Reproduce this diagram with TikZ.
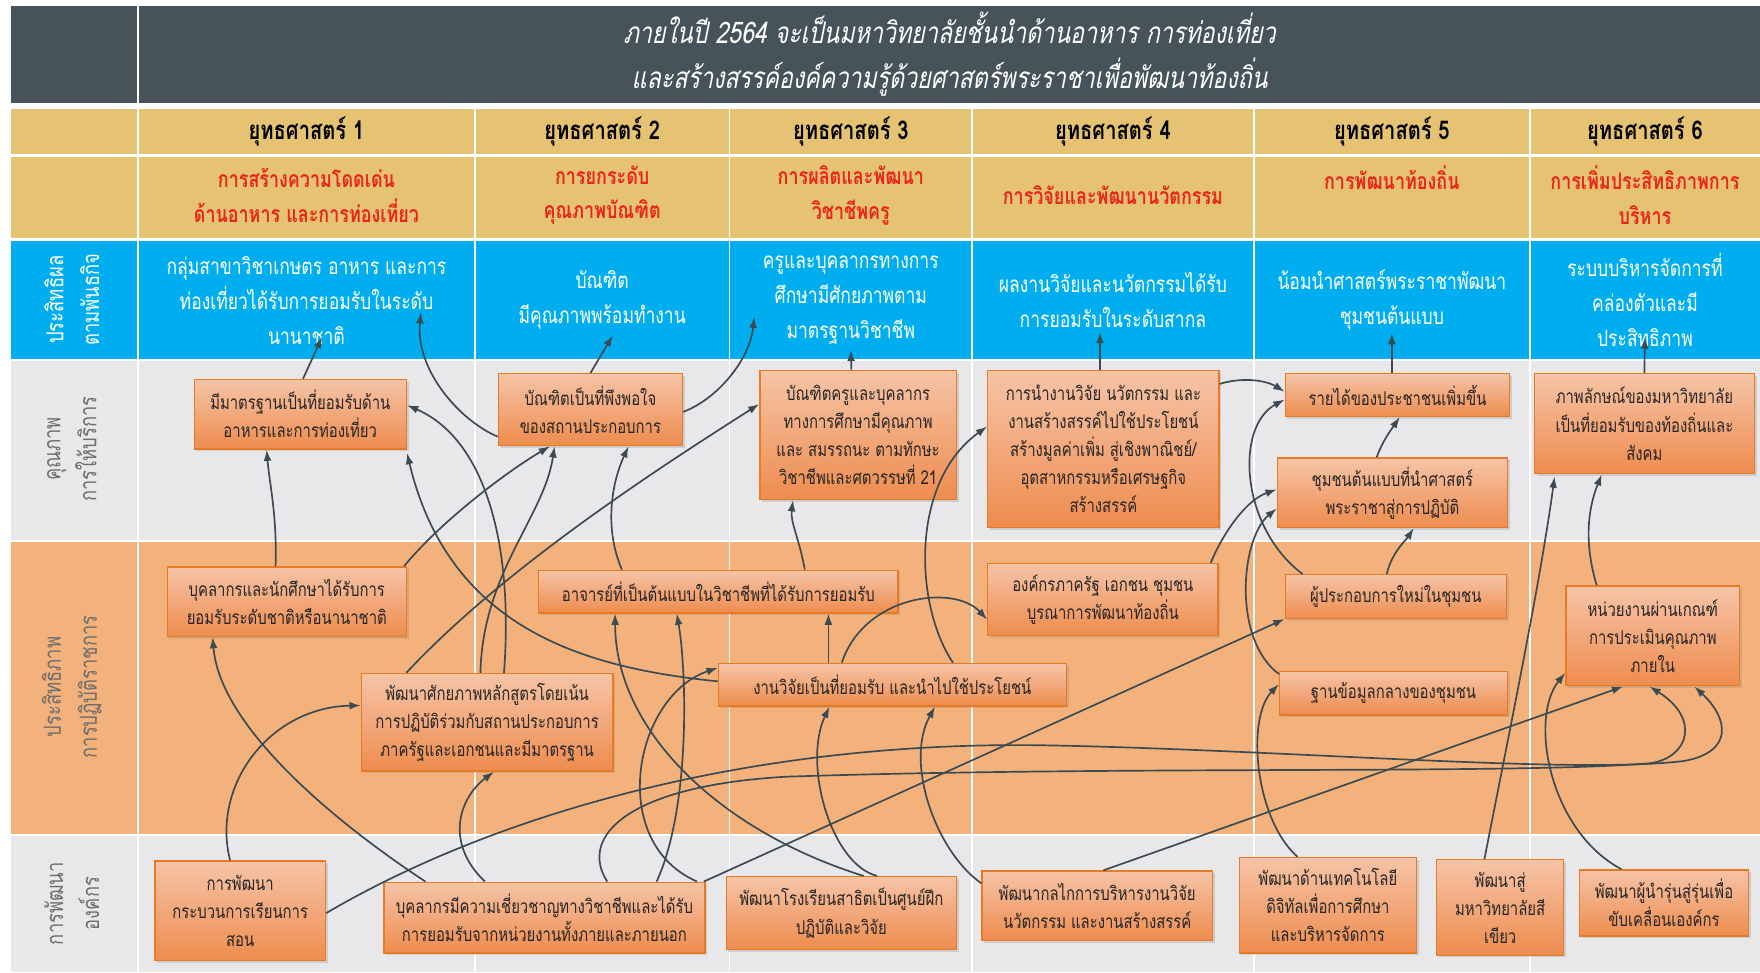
\documentclass[tikz,border=0pt]{standalone}
\usepackage{fontspec}
\usepackage{xcolor}
\usepackage{tikz}
\usetikzlibrary{arrows.meta, shadows}
\setmainfont[Script=Thai, FakeStretch=0.78]{Loma}
\newfontfamily\titlefont[Script=Thai, FakeStretch=0.78, FakeSlant=0.2]{Loma}
\definecolor{headbg}{HTML}{46535A}
\definecolor{yellowbg}{HTML}{E5C372}
\definecolor{bluebg}{HTML}{00AEEF}
\definecolor{graybg}{HTML}{E8E8EA}
\definecolor{orangebg}{HTML}{F3B27B}
\definecolor{namered}{HTML}{E8261C}
\definecolor{labelgray}{HTML}{6E6E6E}
\definecolor{boxtop}{HTML}{F6C4A7}
\definecolor{boxbot}{HTML}{EE8C4E}
\definecolor{boxline}{HTML}{E97A24}
\definecolor{linkc}{HTML}{3C4A52}

\begin{document}
\begin{tikzpicture}[x=1pt, y=-1pt,
  titleline/.style={text=white, inner sep=0pt, font=\titlefont\fontsize{26.5}{30}\selectfont},
  rowlabel/.style={rotate=90, align=center, text=labelgray, font=\fontsize{21}{32}\selectfont},
  stratnum/.style={font=\bfseries\fontsize{23}{24}\selectfont},
  stratname/.style={text=namered, align=center, font=\bfseries\fontsize{20.5}{31}\selectfont},
  goal/.style={text=white, align=center, minimum height=100pt, font=\fontsize{20}{31}\selectfont},
  link/.style={draw=linkc, line width=1.5pt, -{Latex[length=10pt,width=7pt]}}]
\useasboundingbox (0,0) rectangle (1568,866);
\fill[white] (0,0) rectangle (1568,866);
\fill[headbg] (10,5) rectangle (1568,92);
\fill[yellowbg] (10,97) rectangle (1568,137);
\fill[yellowbg] (10,140) rectangle (1568,212);
\fill[bluebg] (10,215) rectangle (1568,320);
\fill[graybg] (10,322) rectangle (1568,481);
\fill[orangebg] (10,483) rectangle (1568,743);
\fill[graybg] (10,745) rectangle (1568,866);
\draw[white, line width=2.5pt] (123,5) -- (123,866);
\foreach \x in {423,650,866,1117,1363}
  \draw[white, line width=1.5pt] (\x,97) -- (\x,866);

\node[titleline] (T1) at (846,25) {ภายในปี 2564 จะเป็นมหาวิทยาลัยชั้นนำด้านอาหาร การท่องเที่ยว};
\node[titleline] (T2) at (846,69) {และสร้างสรรค์องค์ความรู้ด้วยศาสตร์พระราชาเพื่อพัฒนาท้องถิ่น};

\node[stratnum] (S1) at (273,117) {ยุทธศาสตร์ 1};
\node[stratnum] (S2) at (536.5,117) {ยุทธศาสตร์ 2};
\node[stratnum] (S3) at (758,117) {ยุทธศาสตร์ 3};
\node[stratnum] (S4) at (991.5,117) {ยุทธศาสตร์ 4};
\node[stratnum] (S5) at (1240,117) {ยุทธศาสตร์ 5};
\node[stratnum] (S6) at (1465.5,117) {ยุทธศาสตร์ 6};

\node[stratname] (N1) at (273,174) {การสร้างความโดดเด่น\\ด้านอาหาร และการท่องเที่ยว};
\node[stratname] (N2) at (536.5,174) {การยกระดับ\\คุณภาพบัณฑิต};
\node[stratname] (N3) at (758,174) {การผลิตและพัฒนา\\วิชาชีพครู};
\node[stratname] (N4) at (991.5,174) {การวิจัยและพัฒนานวัตกรรม};
\node[stratname] (N5) at (1240,158) {การพัฒนาท้องถิ่น};
\node[stratname] (N6) at (1465.5,174) {การเพิ่มประสิทธิภาพการ\\บริหาร};

\node[rowlabel, text=white] (R1) at (64,267) {ประสิทธิผล\\ตามพันธกิจ};
\node[rowlabel] (R2) at (64,400) {คุณภาพ\\การให้บริการ};
\node[rowlabel] (R3) at (64,612) {ประสิทธิภาพ\\การปฏิบัติราชการ};
\node[rowlabel] (R4) at (64,805) {การพัฒนา\\องค์กร};

\node[goal] (B1) at (273,267.5) {กลุ่มสาขาวิชาเกษตร อาหาร และการ\\ท่องเที่ยวได้รับการยอมรับในระดับ\\นานาชาติ};
\node[goal] (B2) at (536.5,267.5) {บัณฑิต\\มีคุณภาพพร้อมทำงาน};
\node[goal] (B3) at (758,267.5) {ครูและบุคลากรทางการ\\ศึกษามีศักยภาพตาม\\มาตรฐานวิชาชีพ};
\node[goal] (B4) at (991.5,267.5) {ผลงานวิจัยและนวัตกรรมได้รับ\\การยอมรับในระดับสากล};
\node[goal] (B5) at (1240,267.5) {น้อมนำศาสตร์พระราชาพัฒนา\\ชุมชนต้นแบบ};
\node[goal] (B6) at (1465.5,267.5) {ระบบบริหารจัดการที่\\คล่องตัวและมี\\ประสิทธิภาพ};

\begin{scope}[every node/.style={draw=boxline, line width=1.2pt, top color=boxtop, bottom color=boxbot,
    align=center, inner sep=2pt, text=black!85, font=\fontsize{17}{25}\selectfont,
    drop shadow={opacity=0.25, shadow xshift=2pt, shadow yshift=-2pt}}]
  \node[minimum width=189pt, minimum height=62pt] (Q1) at (267.5,369) {มีมาตรฐานเป็นที่ยอมรับด้าน\\อาหารและการท่องเที่ยว};
  \node[minimum width=164pt, minimum height=64pt] (Q2) at (526,365) {บัณฑิตเป็นที่พึงพอใจ\\ของสถานประกอบการ};
  \node[minimum width=175pt, minimum height=115pt] (Q3) at (764.5,387.5) {บัณฑิตครูและบุคลากร\\ทางการศึกษามีคุณภาพ\\และ สมรรถนะ ตามทักษะ\\วิชาชีพและศตวรรษที่ 21};
  \node[minimum width=206pt, minimum height=140pt] (Q4) at (983,400) {การนำงานวิจัย นวัตกรรม และ\\งานสร้างสรรค์ไปใช้ประโยชน์\\สร้างมูลค่าเพิ่ม สู่เชิงพาณิชย์/\\อุตสาหกรรมหรือเศรษฐกิจ\\สร้างสรรค์};
  \node[minimum width=200pt, minimum height=38pt] (Q5a) at (1245,352) {รายได้ของประชาชนเพิ่มขึ้น};
  \node[minimum width=205pt, minimum height=62pt] (Q5b) at (1240.5,439) {ชุมชนต้นแบบที่นำศาสตร์\\พระราชาสู่การปฏิบัติ};
  \node[minimum width=196pt, minimum height=89pt] (Q6) at (1465,377.5) {ภาพลักษณ์ของมหาวิทยาลัย\\เป็นที่ยอมรับของท้องถิ่นและ\\สังคม};

  \node[minimum width=213pt, minimum height=62pt] (P1) at (255.5,536) {บุคลากรและนักศึกษาได้รับการ\\ยอมรับระดับชาติหรือนานาชาติ};
  \node[minimum width=320pt, minimum height=38pt] (P2) at (640,527) {อาจารย์ที่เป็นต้นแบบในวิชาชีพที่ได้รับการยอมรับ};
  \node[minimum width=224pt, minimum height=87pt] (P3) at (434,643.5) {พัฒนาศักยภาพหลักสูตรโดยเน้น\\การปฏิบัติร่วมกับสถานประกอบการ\\ภาครัฐและเอกชนและมีมาตรฐาน};
  \node[minimum width=310pt, minimum height=38pt] (P4) at (795,610) {งานวิจัยเป็นที่ยอมรับ และนำไปใช้ประโยชน์};
  \node[minimum width=205pt, minimum height=64pt] (P5) at (982.5,534) {องค์กรภาครัฐ เอกชน ชุมชน\\บูรณาการพัฒนาท้องถิ่น};
  \node[minimum width=197pt, minimum height=39pt] (P6) at (1243.5,531.5) {ผู้ประกอบการใหม่ในชุมชน};
  \node[minimum width=203pt, minimum height=39pt] (P7) at (1241.5,617.5) {ฐานข้อมูลกลางของชุมชน};
  \node[minimum width=155pt, minimum height=89pt] (P8) at (1472.5,566.5) {หน่วยงานผ่านเกณฑ์\\การประเมินคุณภาพ\\ภายใน};

  \node[minimum width=152pt, minimum height=89pt] (O1) at (214,811.5) {การพัฒนา\\กระบวนการเรียนการ\\สอน};
  \node[minimum width=286pt, minimum height=63pt] (O2) at (485,817.5) {บุคลากรมีความเชี่ยวชาญทางวิชาชีพและได้รับ\\การยอมรับจากหน่วยงานทั้งภายและภายนอก};
  \node[minimum width=205pt, minimum height=65pt] (O3) at (749.5,813.5) {พัฒนาโรงเรียนสาธิตเป็นศูนย์ฝึก\\ปฏิบัติและวิจัย};
  \node[minimum width=205pt, minimum height=62pt] (O4) at (977.5,807) {พัฒนากลไกการบริหารงานวิจัย\\นวัตกรรม และงานสร้างสรรค์};
  \node[minimum width=158pt, minimum height=85pt] (O5) at (1183,806.5) {พัฒนาด้านเทคโนโลยี\\ดิจิทัลเพื่อการศึกษา\\และบริหารจัดการ};
  \node[minimum width=113pt, minimum height=85pt] (O6) at (1336.5,808.5) {พัฒนาสู่\\มหาวิทยาลัยสี\\เขียว};
  \node[minimum width=151pt, minimum height=59pt] (O7) at (1482.5,804.5) {พัฒนาผู้นำรุ่นสู่รุ่นเพื่อ\\ขับเคลื่อนเองค์กร};
\end{scope}

\draw[link] ([xshift=2.5pt]Q1.north) -- ([xshift=14pt,yshift=17.5pt]B1.south);
\draw[link] (Q2.north) -- ([xshift=9.5pt,yshift=19pt]B2.south);
\draw[link] ([xshift=-6pt]Q3.north) -- ([yshift=6pt]B3.south);
\draw[link] ([xshift=-3pt]Q4.north) -- ([xshift=-11.5pt,yshift=22pt]B4.south);
\draw[link] ([xshift=-5pt]Q5a.north) -- ([yshift=21pt]B5.south);
\draw[link] (Q6.north) -- ([yshift=17pt]B6.south);
\draw[link] ([yshift=-24pt]Q2.west) .. controls (410,375) and (370,330) .. ([xshift=102pt,yshift=39.5pt]B1.south);
\draw[link] ([yshift=-2pt]Q2.east) .. controls (640,355) and (668,320) .. ([xshift=-86pt,yshift=35.5pt]B3.south);

\draw[link] ([xshift=-10pt]P1.north) .. controls (247,460) and (240,430) .. ([xshift=-30pt]Q1.south);
\draw[link] ([xshift=104.5pt]P1.north) .. controls (395,462) and (455,418) .. ([xshift=-36pt]Q2.south);
\draw[link] ([xshift=-72pt]P3.north) .. controls (450,505) and (590,415) .. ([yshift=27.5pt]Q3.west);
\draw[link] ([xshift=-6pt]P3.north) .. controls (430,510) and (485,460) .. ([xshift=-32pt]Q2.south);
\draw[link] ([xshift=15pt]P3.north) .. controls (458,480) and (430,390) .. ([yshift=8pt]Q1.east);
\draw[link] ([yshift=3pt]P4.west) .. controls (520,595) and (400,560) .. ([yshift=-3pt]Q1.south east);
\draw[link] ([xshift=-86pt]P2.north) .. controls (538,470) and (545,430) .. ([xshift=34pt]Q2.south);
\draw[link] ([xshift=77pt]P2.north) .. controls (712,480) and (704,465) .. ([xshift=-58pt]Q3.south);
\draw[link] ([xshift=-57pt]P4.north) -- ([xshift=98pt]P2.south);
\draw[link] ([xshift=-45pt]P4.north) .. controls (770,530) and (850,520) .. ([yshift=-18pt]P5.west);
\draw[link] ([xshift=54pt]P4.north) .. controls (815,540) and (810,430) .. ([yshift=20pt]Q4.west);
\draw[link] ([xshift=-7pt]P5.north east) .. controls (1092,470) and (1112,445) .. ([yshift=3pt]Q5b.west);

\draw[link] ([xshift=-8pt]P6.north) .. controls (1240,492) and (1252,482) .. ([xshift=19pt]Q5b.south);
\draw[link] ([xshift=-14pt]Q5b.north) .. controls (1232,392) and (1240,382) .. ([xshift=2pt]Q5a.south);
\draw[link] ([yshift=58pt]Q4.east) .. controls (1110,335) and (1130,340) .. ([yshift=3pt]Q5a.west);
\draw[link] ([xshift=-83pt]P6.north) .. controls (1105,470) and (1100,380) .. ([yshift=-4pt]Q5a.west);
\draw[link] ([yshift=17pt]P7.west) .. controls (1098,570) and (1105,480) .. ([yshift=-14pt]Q5b.west);
\draw[link] ([xshift=-27pt]O5.north) .. controls (1118,730) and (1110,640) .. ([yshift=8pt]P7.west);
\draw[link] ([xshift=142pt]O2.north) -- ([yshift=-20pt]P6.west);
\draw[link] ([xshift=-14pt]O6.north) .. controls (1345,650) and (1372,520) .. ([xshift=-80pt,yshift=-2pt]Q6.south);
\draw[link] ([xshift=-50pt]P8.north) .. controls (1410,480) and (1416,450) .. ([xshift=-38pt]Q6.south);
\draw[link] ([xshift=-38pt]O7.north) .. controls (1380,740) and (1362,640) .. ([yshift=-33pt]P8.west);

\draw[link] ([xshift=-9pt]O1.north) .. controls (188,700) and (240,630) .. ([yshift=15pt]P3.west);
\draw[link] ([xshift=-106pt]O2.north) .. controls (280,720) and (195,640) .. ([xshift=-66pt]P1.south);
\draw[link] ([xshift=-53pt]O2.north) .. controls (395,750) and (410,710) .. ([xshift=6pt]P3.south);
\draw[link] ([xshift=100pt]O2.north) .. controls (615,720) and (612,600) .. ([xshift=-37pt]P2.south);
\draw[link] ([xshift=136pt]O2.north) .. controls (540,750) and (565,620) .. ([yshift=15pt]P4.west);
\draw[link] ([xshift=20pt]O3.north) .. controls (640,740) and (548,650) .. ([xshift=-92pt]P2.south);
\draw[link] ([yshift=20pt]O4.west) .. controls (835,760) and (805,680) .. ([xshift=38pt]P4.south);
\draw[link] ([xshift=32pt]O3.north) .. controls (740,770) and (715,680) .. ([xshift=-56pt]P4.south);

\draw[link] ([yshift=-2pt]O1.east) .. controls (450,720) and (680,660) .. (930,664)
  .. controls (1150,668) and (1400,690) .. (1500,678) .. controls (1545,670) and (1540,640) .. ([xshift=37pt]P8.south);
\draw[link] ([xshift=56pt]O2.north) .. controls (515,745) and (560,700) .. (700,692)
  .. controls (1000,682) and (1350,690) .. (1470,680) .. controls (1505,675) and (1515,640) .. ([xshift=-3pt]P8.south);
\draw[link] ([xshift=5.5pt]O4.north) -- ([xshift=-26.5pt]P8.south);
\end{tikzpicture}
\end{document}
